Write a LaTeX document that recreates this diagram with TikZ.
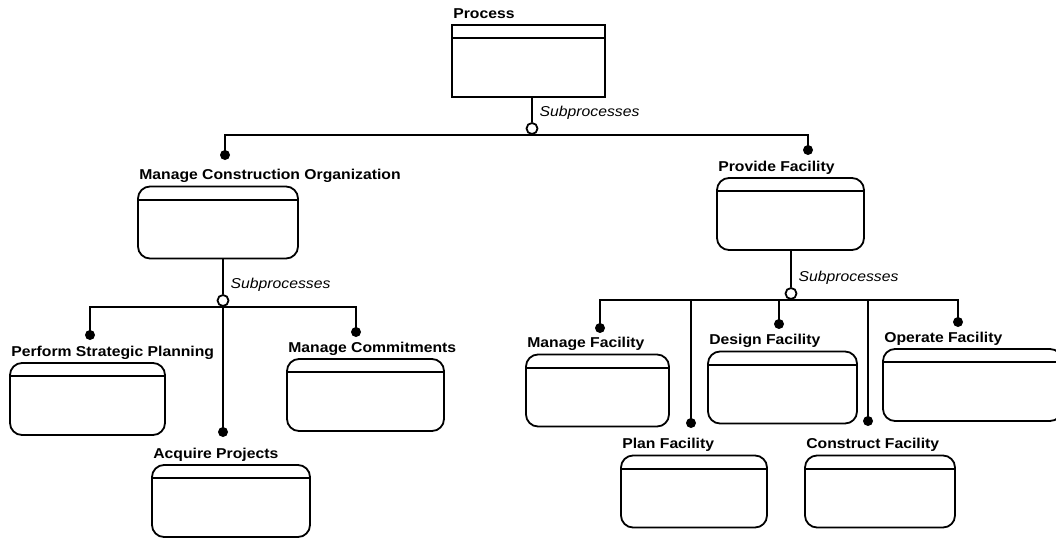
\documentclass[tikz,border=0pt]{standalone}
\usepackage{fontspec}
\newfontfamily\lblfont[FakeStretch=1.1]{Liberation Sans}
\usetikzlibrary{positioning}

\tikzset{
    rootbox/.style={draw, rectangle, line width=1.8pt, minimum height=72pt, inner sep=0pt},
    procbox/.style={rootbox, rounded corners=12pt},
    boxlabel/.style={anchor=base west, xshift=2pt, yshift=6pt, inner sep=0pt,
        font=\lblfont\bfseries\fontsize{14.3}{16}\selectfont},
    sublabel/.style={anchor=base west, xshift=3pt, yshift=7pt, inner sep=0pt,
        font=\lblfont\itshape\fontsize{14.3}{16}\selectfont},
    subring/.style={draw, circle, fill=white, line width=1.8pt, inner sep=0pt, minimum size=11pt},
    subdot/.style={fill, circle, inner sep=0pt, minimum size=10pt},
    link/.style={line width=1.8pt}
}

\begin{document}
\begin{tikzpicture}[x=1pt, y=-1pt]
    \useasboundingbox (0,0) rectangle (1056,538);
    \clip (0,0) rectangle (1056,538);

    % Process boxes
    \node[rootbox, minimum width=153pt, label={[boxlabel]north west:Process}] (process) at (528.5,61) {};
    \node[procbox, minimum width=160pt, label={[boxlabel]north west:Manage Construction Organization}] (mco) at (218,222.5) {};
    \node[procbox, minimum width=155pt, label={[boxlabel]north west:Perform Strategic Planning}] (psp) at (87.5,399) {};
    \node[procbox, minimum width=157pt, label={[boxlabel]north west:Manage Commitments}] (mcm) at (365.5,395) {};
    \node[procbox, minimum width=158pt, label={[boxlabel]north west:Acquire Projects}] (acq) at (231,501) {};
    \node[procbox, minimum width=147pt, label={[boxlabel]north west:Provide Facility}] (pf) at (790.5,214) {};
    \node[procbox, minimum width=143pt, label={[boxlabel]north west:Manage Facility}] (mf) at (597.5,390.5) {};
    \node[procbox, minimum width=149pt, label={[boxlabel]north west:Design Facility}] (df) at (782.5,387.5) {};
    \node[procbox, minimum width=179pt, label={[boxlabel]north west:Operate Facility}] (of) at (972.5,385) {};
    \node[procbox, minimum width=146pt, label={[boxlabel]north west:Plan Facility}] (plf) at (694,491.5) {};
    \node[procbox, minimum width=150pt, label={[boxlabel]north west:Construct Facility}] (cf) at (880,491.5) {};

    % Header line under each title
    \foreach \b in {process,mco,psp,mcm,acq,pf,mf,df,of,plf,cf} {
        \draw[line width=1.8pt] ([yshift=-14pt]\b.north west) -- ([yshift=-14pt]\b.north east);
    }

    % Subprocess junctions
    \coordinate (sub1) at (532,128.5);
    \coordinate (sub2) at (223,300.5);
    \coordinate (sub3) at (791,293.5);

    % End dots
    \node[subdot] (dmco) at (225,155) {};
    \node[subdot] (dpf) at (808,150) {};
    \node[subdot] (dpsp) at (90,335) {};
    \node[subdot] (dmcm) at (356,332) {};
    \node[subdot] (dacq) at (223,432) {};
    \node[subdot] (dmf) at (600,328) {};
    \node[subdot] (ddf) at (779,324) {};
    \node[subdot] (dof) at (958,322) {};
    \node[subdot] (dplf) at (691,423) {};
    \node[subdot] (dcf) at (868,421) {};

    % Rings on the junctions
    \node[subring, label={[sublabel]north east:Subprocesses}] (ring1) at (sub1) {};
    \node[subring, label={[sublabel]north east:Subprocesses}] (ring2) at (sub2) {};
    \node[subring, label={[sublabel]north east:Subprocesses}] (ring3) at (sub3) {};

    % Top level
    \draw[link] (ring1 |- process.south) -- (ring1.north);
    \draw[link] (dmco.center) |- (ring1.south) -| (dpf.center);

    % Manage Construction Organization
    \draw[link] (ring2 |- mco.south) -- (ring2.north);
    \draw[link] (dpsp.center) |- (ring2.south) -| (dmcm.center);
    \draw[link] (ring2.south) -- (dacq.center);

    % Provide Facility
    \draw[link] (ring3 |- pf.south) -- (ring3.north);
    \draw[link] (dmf.center) |- (ring3.south) -| (dof.center);
    \draw[link] (ddf.center) |- (ring3.south);
    \draw[link] (dplf.center) |- (ring3.south);
    \draw[link] (dcf.center) |- (ring3.south);
\end{tikzpicture}
\end{document}
